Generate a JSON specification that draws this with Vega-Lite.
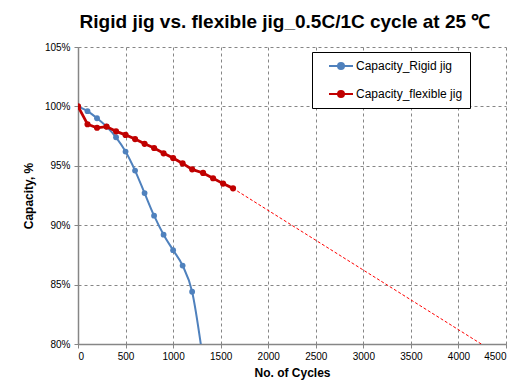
{
  "$schema": "https://vega.github.io/schema/vega-lite/v6.json",
  "width": 428,
  "height": 297,
  "autosize": "none",
  "padding": {"left": 78, "top": 47, "right": 16, "bottom": 46},
  "background": "white",
  "title": {
    "text": "Rigid jig vs. flexible jig_0.5C/1C  cycle at 25 ℃",
    "font": "Liberation Sans",
    "fontSize": 19,
    "fontWeight": "bold",
    "color": "#000000",
    "anchor": "middle",
    "dx": -7,
    "offset": 10
  },
  "datasets": {
    "main": [
      {"series": "Capacity_Rigid jig", "cycle": 0, "capacity": 100},
      {"series": "Capacity_Rigid jig", "cycle": 100, "capacity": 99.6},
      {"series": "Capacity_Rigid jig", "cycle": 200, "capacity": 99.0},
      {"series": "Capacity_Rigid jig", "cycle": 300, "capacity": 98.3},
      {"series": "Capacity_Rigid jig", "cycle": 400, "capacity": 97.4},
      {"series": "Capacity_Rigid jig", "cycle": 500, "capacity": 96.2},
      {"series": "Capacity_Rigid jig", "cycle": 600, "capacity": 94.6},
      {"series": "Capacity_Rigid jig", "cycle": 700, "capacity": 92.7},
      {"series": "Capacity_Rigid jig", "cycle": 800, "capacity": 90.8},
      {"series": "Capacity_Rigid jig", "cycle": 900, "capacity": 89.2},
      {"series": "Capacity_Rigid jig", "cycle": 1000, "capacity": 87.9},
      {"series": "Capacity_Rigid jig", "cycle": 1100, "capacity": 86.6},
      {"series": "Capacity_Rigid jig", "cycle": 1200, "capacity": 84.4},
      {"series": "Capacity_Rigid jig", "cycle": 1300, "capacity": 79.5},
      {"series": "Capacity_flexible jig", "cycle": 0, "capacity": 100},
      {"series": "Capacity_flexible jig", "cycle": 100, "capacity": 98.5},
      {"series": "Capacity_flexible jig", "cycle": 200, "capacity": 98.2},
      {"series": "Capacity_flexible jig", "cycle": 300, "capacity": 98.3},
      {"series": "Capacity_flexible jig", "cycle": 400, "capacity": 97.9},
      {"series": "Capacity_flexible jig", "cycle": 500, "capacity": 97.6},
      {"series": "Capacity_flexible jig", "cycle": 600, "capacity": 97.25},
      {"series": "Capacity_flexible jig", "cycle": 700, "capacity": 96.85},
      {"series": "Capacity_flexible jig", "cycle": 800, "capacity": 96.5},
      {"series": "Capacity_flexible jig", "cycle": 900, "capacity": 96.05},
      {"series": "Capacity_flexible jig", "cycle": 1000, "capacity": 95.65},
      {"series": "Capacity_flexible jig", "cycle": 1100, "capacity": 95.2},
      {"series": "Capacity_flexible jig", "cycle": 1200, "capacity": 94.7},
      {"series": "Capacity_flexible jig", "cycle": 1315, "capacity": 94.4},
      {"series": "Capacity_flexible jig", "cycle": 1420, "capacity": 93.95},
      {"series": "Capacity_flexible jig", "cycle": 1525, "capacity": 93.5},
      {"series": "Capacity_flexible jig", "cycle": 1630, "capacity": 93.1}
    ],
    "trend": [
      {"cycle": 1630, "capacity": 93.1},
      {"cycle": 4240, "capacity": 80}
    ]
  },
  "encoding": {
    "x": {
      "field": "cycle",
      "type": "quantitative",
      "scale": {"domain": [0, 4500], "nice": false, "zero": true},
      "axis": {
        "title": "No. of Cycles",
        "values": [0, 500, 1000, 1500, 2000, 2500, 3000, 3500, 4000, 4500],
        "format": "d"
      }
    },
    "y": {
      "field": "capacity",
      "type": "quantitative",
      "scale": {"domain": [80, 105], "nice": false, "zero": false},
      "axis": {
        "title": "Capacity, %",
        "values": [80, 85, 90, 95, 100, 105],
        "labelExpr": "datum.value + '%'"
      }
    },
    "color": {
      "field": "series",
      "type": "nominal",
      "scale": {
        "domain": ["Capacity_Rigid jig", "Capacity_flexible jig"],
        "range": ["#4F81BD", "#C00000"]
      },
      "legend": {
        "title": null,
        "orient": "none",
        "legendX": 234,
        "legendY": 5,
        "strokeColor": "#000000",
        "fillColor": "#ffffff",
        "padding": 7,
        "rowPadding": 14,
        "labelFont": "Liberation Sans",
        "labelFontSize": 12,
        "labelColor": "#000000",
        "labelExpr": "datum.label + '\u00a0\u00a0\u00a0\u00a0\u00a0\u00a0\u00a0\u00a0\u00a0\u00a0'",
        "symbolType": "M-2,0H2M0.5,0A0.5,0.5,0,1,1,-0.5,0A0.5,0.5,0,1,1,0.5,0Z",
        "symbolSize": 144,
        "symbolStrokeWidth": 2,
        "symbolOffset": 15,
        "labelOffset": 8,
        "encode": {
          "symbols": {"update": {"fill": {"scale": "color", "field": "value"}}}
        }
      }
    }
  },
  "layer": [
    {
      "data": {"name": "trend"},
      "mark": {"type": "line", "color": "#FF0000", "strokeWidth": 1, "strokeDash": [3, 2], "clip": true},
      "encoding": {"color": {"value": "#FF0000"}}
    },
    {
      "data": {"name": "main"},
      "transform": [{"filter": "datum.series === 'Capacity_Rigid jig'"}],
      "mark": {
        "type": "line",
        "interpolate": "monotone",
        "clip": true,
        "strokeWidth": 2,
        "point": {"filled": true, "size": 34, "clip": true}
      },
      "encoding": {"order": {"field": "cycle"}}
    },
    {
      "data": {"name": "main"},
      "transform": [{"filter": "datum.series === 'Capacity_flexible jig'"}],
      "mark": {
        "type": "line",
        "clip": true,
        "strokeWidth": 2.8,
        "point": {"filled": true, "size": 38, "clip": true}
      },
      "encoding": {"order": {"field": "cycle"}}
    }
  ],
  "config": {
    "view": {"stroke": null},
    "axis": {
      "labelFont": "Liberation Sans",
      "labelFontSize": 10,
      "labelColor": "#000000",
      "titleFont": "Liberation Sans",
      "titleFontSize": 12,
      "titleFontWeight": "bold",
      "titleColor": "#000000",
      "domainColor": "#868686",
      "domainWidth": 1.5,
      "tickColor": "#868686",
      "tickSize": 4,
      "gridColor": "#868686",
      "gridDash": [3, 3],
      "gridWidth": 1
    },
    "axisX": {"labelPadding": 3, "titlePadding": 6},
    "axisY": {"labelPadding": 4, "titlePadding": 9}
  }
}
